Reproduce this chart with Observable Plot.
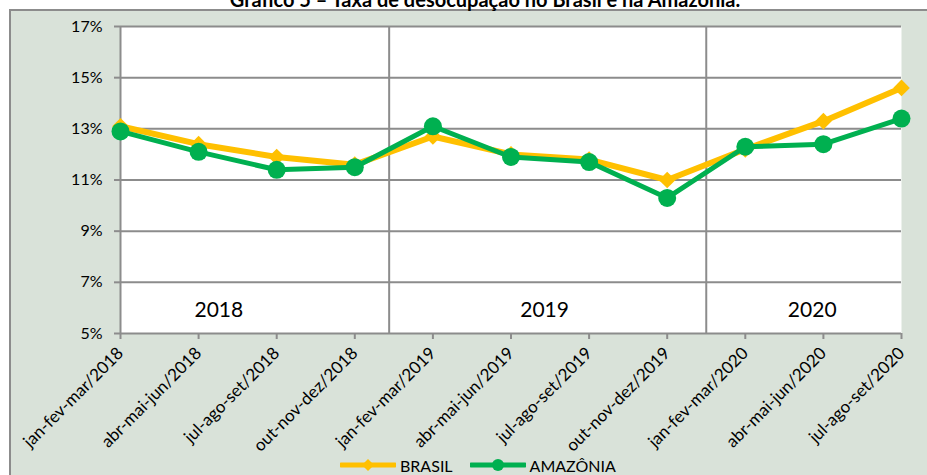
<!DOCTYPE html>
<html>
<head>
<meta charset="utf-8">
<script src="https://cdn.jsdelivr.net/npm/d3@7"></script>
<script src="https://cdn.jsdelivr.net/npm/@observablehq/plot@0.6"></script>
<style>
  html, body { margin: 0; padding: 0; background: #fff; overflow: hidden; width: 927px; height: 475px; }
  #wrap { position: relative; width: 927px; height: 475px; font-family: Lato, "Open Sans", sans-serif; }
  #bg { position: absolute; left: 9px; top: 9px; width: 960px; height: 520px; background: #d9e2d9; border: 2px solid #8c8c8c; box-sizing: border-box; }
  #title { position: absolute; left: 0; top: -11px; width: 970px; text-align: center; font-weight: bold; font-size: 20px; line-height: 20px; color: #000; white-space: nowrap; }
  #chart { position: absolute; left: 0; top: 0; }
  #legend { position: absolute; left: 340px; top: 455px; height: 20px; display: flex; align-items: center; font-size: 16px; color: #000; white-space: nowrap; }
  #legend svg { display: block; }
</style>
</head>
<body>
<div id="wrap">
  <div id="bg"></div>
  <div id="title">Gráfico 5 – Taxa de desocupação no Brasil e na Amazônia.</div>
  <div id="chart"></div>
  <div id="legend"></div>
</div>
<script>
const categories = [
  "jan-fev-mar/2018", "abr-mai-jun/2018", "jul-ago-set/2018", "out-nov-dez/2018",
  "jan-fev-mar/2019", "abr-mai-jun/2019", "jul-ago-set/2019", "out-nov-dez/2019",
  "jan-fev-mar/2020", "abr-mai-jun/2020", "jul-ago-set/2020"
];
const brasil   = [13.1, 12.4, 11.9, 11.6, 12.7, 12.0, 11.8, 11.0, 12.2, 13.3, 14.6];
const amazonia = [12.9, 12.1, 11.4, 11.5, 13.1, 11.9, 11.7, 10.3, 12.3, 12.4, 13.4];
const yTicks = [5, 7, 9, 11, 13, 15, 17];
const yearLabels = ["2018", "2019", "2020"];
const seriesNames = ["BRASIL", "AMAZÔNIA"];
const seriesColors = ["#FFC000", "#00B050"];

const rows = categories.map((c, i) => ({ i, cat: c, brasil: brasil[i], amazonia: amazonia[i] }));
const yearX = [1.259, 5.43, 8.857];
const gridColor = "#8c8c8c";

const chart = Plot.plot({
  width: 927,
  height: 455,
  marginLeft: 120,
  marginRight: 26,
  marginTop: 26,
  marginBottom: 122,
  style: { background: "transparent", fontFamily: "Lato, 'Open Sans', sans-serif", fontSize: "15px", color: "#000", overflow: "visible" },
  x: { type: "linear", domain: [0, categories.length - 1] },
  y: { domain: [yTicks[0], yTicks[yTicks.length - 1]] },
  marks: [
    Plot.frame({ fill: "white", stroke: "none" }),
    Plot.ruleY(yTicks.slice(1), { stroke: gridColor, strokeWidth: 2 }),
    Plot.ruleX([3.44, 7.5], { stroke: gridColor, strokeWidth: 2 }),
    Plot.ruleY([yTicks[0]], { stroke: gridColor, strokeWidth: 2 }),
    Plot.ruleX([0], { stroke: gridColor, strokeWidth: 2 }),
    Plot.axisY({ ticks: yTicks, tickFormat: d => d + "%", tickSize: 6, tickPadding: 12, stroke: gridColor, strokeWidth: 2, fill: "#000", fontSize: 16, label: null }),
    Plot.axisX({ ticks: d3.range(categories.length), tickFormat: i => categories[i], tickRotate: -45, tickSize: 6, tickPadding: 11, stroke: gridColor, strokeWidth: 2, fill: "#000", fontSize: 17, label: null }),
    Plot.text(yearLabels, { x: (d, i) => yearX[i], y: () => 5.9, text: d => d, fontSize: 21, fill: "#000" }),
    Plot.line(rows, { x: "i", y: "brasil", stroke: seriesColors[0], strokeWidth: 6 }),
    Plot.dot(rows, { x: "i", y: "brasil", symbol: "diamond2", r: 7.5, fill: seriesColors[0], stroke: "none" }),
    Plot.line(rows, { x: "i", y: "amazonia", stroke: seriesColors[1], strokeWidth: 5 }),
    Plot.dot(rows, { x: "i", y: "amazonia", r: 9, fill: seriesColors[1], stroke: "none" })
  ]
});
document.getElementById("chart").appendChild(chart);

// legend
const legend = document.getElementById("legend");
seriesNames.forEach((name, k) => {
  const ns = "http://www.w3.org/2000/svg";
  const s = document.createElementNS(ns, "svg");
  s.setAttribute("width", 56);
  s.setAttribute("height", 14);
  const ln = document.createElementNS(ns, "line");
  ln.setAttribute("x1", 1); ln.setAttribute("x2", 55);
  ln.setAttribute("y1", 7); ln.setAttribute("y2", 7);
  ln.setAttribute("stroke", seriesColors[k]);
  ln.setAttribute("stroke-width", 5);
  ln.setAttribute("stroke-linecap", "round");
  s.appendChild(ln);
  if (k === 0) {
    const p = document.createElementNS(ns, "path");
    p.setAttribute("d", "M28,1 L34,7 L28,13 L22,7 Z");
    p.setAttribute("fill", seriesColors[k]);
    s.appendChild(p);
  } else {
    const c = document.createElementNS(ns, "circle");
    c.setAttribute("cx", 28); c.setAttribute("cy", 7); c.setAttribute("r", 6);
    c.setAttribute("fill", seriesColors[k]);
    s.appendChild(c);
  }
  legend.appendChild(s);
  const t = document.createElement("span");
  t.textContent = name;
  t.style.marginLeft = "4px";
  t.style.marginRight = k === 0 ? "17px" : "0";
  legend.appendChild(t);
});
</script>
</body>
</html>
